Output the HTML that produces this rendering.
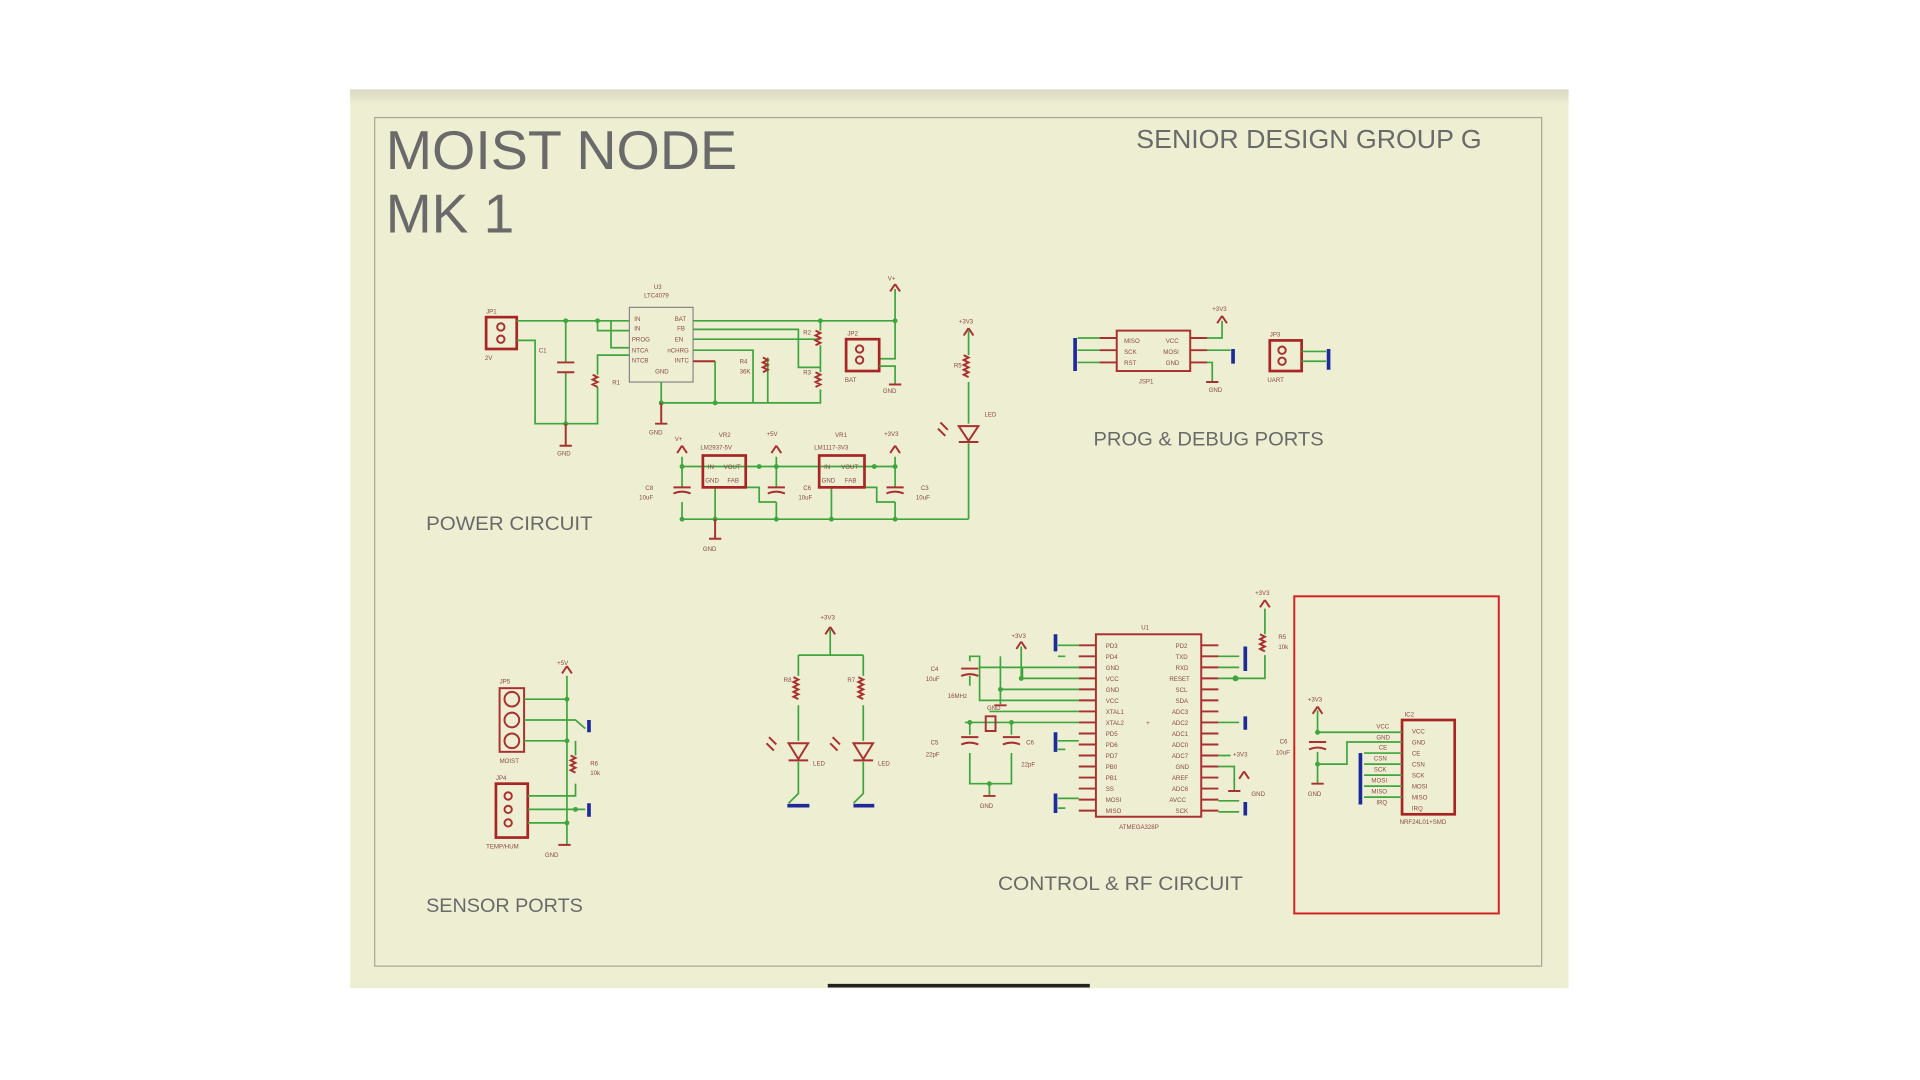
<!DOCTYPE html>
<html><head><meta charset="utf-8"><style>
html,body{margin:0;padding:0;background:#fff;width:1920px;height:1080px;overflow:hidden}
svg{display:block}
text{font-family:"Liberation Sans",sans-serif}
.g{stroke:#3fa63f;stroke-width:1.4;fill:none}
.r{stroke:#a83030;stroke-width:1.6;fill:none}
.rb{stroke:#a82525;stroke-width:2.2;fill:none}
.b{stroke:#1c2a9a;stroke-width:3;fill:none}
.t{fill:#8a4a4a;font-size:5px}
.k{fill:#777;font-size:6px}
.d{fill:#3fa63f}
</style></head><body>
<svg width="1920" height="1080" viewBox="0 0 1568 882" preserveAspectRatio="none">
<defs><linearGradient id="top" x1="0" y1="0" x2="0" y2="1"><stop offset="0" stop-color="#d8d8c4"/><stop offset="1" stop-color="#eeeed2"/></linearGradient></defs>
<rect x="286" y="73" width="995" height="734" fill="#eeeed2"/>
<rect x="286" y="73" width="995" height="12" fill="url(#top)"/>
<rect x="306" y="96" width="953" height="693" fill="none" stroke="#a8a898" stroke-width="1"/>
<line x1="676" y1="805" x2="890" y2="805" stroke="#222" stroke-width="3"/>
<text x="315" y="138" font-size="45" fill="#6a6a6a" textLength="287" lengthAdjust="spacingAndGlyphs">MOIST NODE</text>
<text x="315" y="190" font-size="45" fill="#6a6a6a">MK 1</text>
<text x="928" y="121" font-size="21" fill="#6a6a6a" textLength="282" lengthAdjust="spacingAndGlyphs">SENIOR DESIGN GROUP G</text>
<text x="348" y="433" font-size="16" fill="#6a6a6a" textLength="136" lengthAdjust="spacingAndGlyphs">POWER CIRCUIT</text>
<text x="893" y="364" font-size="16" fill="#6a6a6a" textLength="188" lengthAdjust="spacingAndGlyphs">PROG &amp; DEBUG PORTS</text>
<text x="348" y="745" font-size="16" fill="#6a6a6a" textLength="128" lengthAdjust="spacingAndGlyphs">SENSOR PORTS</text>
<text x="815" y="727" font-size="16" fill="#6a6a6a" textLength="200" lengthAdjust="spacingAndGlyphs">CONTROL &amp; RF CIRCUIT</text>
<rect x="1057" y="487" width="167" height="259" fill="none" stroke="#d42020" stroke-width="1.6"/>

<!-- POWER -->
<rect x="397" y="259" width="25" height="26" class="rb"/>
<circle cx="409" cy="267" r="3" class="r"/><circle cx="409" cy="277" r="3" class="r"/>
<text x="397" y="256" class="t">JP1</text><text x="396" y="294" class="t">2V</text>
<path class="g" d="M422 262H514M462 262V296M462 304V346M422 278H437V346H488V316M488 306V290H514M488 262V270H514M499 262V284H514"/>
<path class="r" d="M455 296H469M455 304H469M484 306l4 2-4 2 4 2-4 2 4 2"/>
<circle cx="462" cy="262" r="2" class="d"/><circle cx="488" cy="262" r="2" class="d"/><circle cx="462" cy="346" r="2" class="d"/>
<text x="440" y="288" class="t">C1</text><text x="500" y="314" class="t">R1</text>
<text x="455" y="372" class="t">GND</text><path class="r" d="M462 346V364M457 364H467"/>
<rect x="514" y="251" width="52" height="61" fill="none" stroke="#888" stroke-width="1"/>
<text x="534" y="236" class="t">U3</text><text x="526" y="243" class="t">LTC4079</text>
<text x="518" y="262" class="t">IN</text><text x="518" y="270" class="t">IN</text><text x="516" y="279" class="t">PROG</text><text x="516" y="288" class="t">NTCA</text><text x="516" y="296" class="t">NTCB</text><text x="535" y="305" class="t">GND</text>
<text x="551" y="262" class="t">BAT</text><text x="553" y="270" class="t">FB</text><text x="551" y="279" class="t">EN</text><text x="545" y="288" class="t">nCHRG</text><text x="551" y="296" class="t">INTC</text>
<path class="g" d="M566 262H731M566 269H652V300H670M566 277H670M566 286H615V329M540 312V329H670V318M670 262V270M670 282V304M584 295V329M627 292V329"/>
<path class="r" d="M566 295H584M666 270l4 2-4 2 4 2-4 2 4 2-4 2M666 304l4 2-4 2 4 2-4 2 4 2-4 2M623 292l4 2-4 2 4 2-4 2 4 2-4 2"/>
<circle cx="540" cy="329" r="2" class="d"/><circle cx="584" cy="329" r="2" class="d"/><circle cx="670" cy="262" r="2" class="d"/><circle cx="731" cy="262" r="2" class="d"/>
<text x="656" y="273" class="t">R2</text><text x="656" y="306" class="t">R3</text><text x="604" y="297" class="t">R4</text><text x="604" y="305" class="t">36K</text>
<path class="r" d="M540 329V346M535 346H545"/><text x="530" y="355" class="t">GND</text>
<path class="g" d="M731 236V293H718"/><path class="r" d="M731 232l-4 6M731 232l4 6"/><text x="725" y="229" class="t">V+</text>
<rect x="691" y="277" width="27" height="26" class="rb"/><circle cx="702" cy="285" r="3" class="r"/><circle cx="702" cy="294" r="3" class="r"/>
<text x="692" y="274" class="t">JP2</text><text x="690" y="312" class="t">BAT</text>
<path class="g" d="M718 299H731V314"/><path class="r" d="M726 314H736"/><text x="721" y="321" class="t">GND</text>
<path class="r" d="M791 268l-4 6M791 268l4 6"/><text x="783" y="264" class="t">+3V3</text>
<path class="g" d="M791 270V290M791 312V346M791 362V424"/>
<path class="r" d="M787 290l4 2-4 2 4 2-4 2 4 2-4 2 4 2-4 2 4 2"/>
<path class="r" d="M783 348H799L791 360ZM783 361H799M768 345l6 6M766 350l6 6"/>
<text x="779" y="300" class="t">R5</text><text x="804" y="340" class="t">LED</text>
<path class="g" d="M557 381H731M557 373V398M557 410V424H791M634 373V398M634 410V424M731 373V398M731 410V424M584 398V424M609 398H620V410H634M679 398V424M706 398H716V410H731"/>
<path class="r" d="M550 398H564M550 403q7-3 14 0M627 398H641M627 403q7-3 14 0M724 398H738M724 403q7-3 14 0"/>
<path class="r" d="M557 364l-4 6M557 364l4 6M634 364l-4 6M634 364l4 6M731 364l-4 6M731 364l4 6"/>
<text x="551" y="360" class="t">V+</text><text x="626" y="356" class="t">+5V</text><text x="722" y="356" class="t">+3V3</text>
<rect x="574" y="372" width="35" height="26" class="rb"/><rect x="669" y="372" width="37" height="26" class="rb"/>
<text x="578" y="383" class="t">IN</text><text x="591" y="383" class="t">VOUT</text><text x="576" y="394" class="t">GND</text><text x="594" y="394" class="t">FAB</text>
<text x="673" y="383" class="t">IN</text><text x="687" y="383" class="t">VOUT</text><text x="671" y="394" class="t">GND</text><text x="690" y="394" class="t">FAB</text>
<text x="587" y="357" class="t">VR2</text><text x="572" y="367" class="t">LM2937-5V</text><text x="682" y="357" class="t">VR1</text><text x="665" y="367" class="t">LM1117-3V3</text>
<text x="527" y="400" class="t">C8</text><text x="522" y="408" class="t">10uF</text><text x="656" y="400" class="t">C6</text><text x="652" y="408" class="t">10uF</text><text x="752" y="400" class="t">C3</text><text x="748" y="408" class="t">10uF</text>
<circle cx="557" cy="381" r="2" class="d"/><circle cx="620" cy="381" r="2" class="d"/><circle cx="634" cy="381" r="2" class="d"/><circle cx="714" cy="381" r="2" class="d"/><circle cx="731" cy="381" r="2" class="d"/>
<circle cx="584" cy="424" r="2" class="d"/><circle cx="634" cy="424" r="2" class="d"/><circle cx="679" cy="424" r="2" class="d"/><circle cx="731" cy="424" r="2" class="d"/><circle cx="557" cy="424" r="2" class="d"/>
<path class="r" d="M584 424V440M579 440H589"/><text x="574" y="450" class="t">GND</text>

<!-- PROG -->
<rect x="912" y="270" width="60" height="33" class="r"/>
<path class="b" d="M878 276V303M1007 285V297M1085 285V302"/>
<path class="g" d="M880 276L888 276H898M880 286H898M880 296H898M986 276H998V262M986 286H1005M986 296H990V312"/>
<path class="r" d="M898 276H912M898 286H912M898 296H912M972 276H986M972 286H986M972 296H986M998 258l-4 6M998 258l4 6M985 312H995"/>
<text x="918" y="280" class="t">MISO</text><text x="918" y="289" class="t">SCK</text><text x="918" y="298" class="t">RST</text><text x="952" y="280" class="t">VCC</text><text x="950" y="289" class="t">MOSI</text><text x="952" y="298" class="t">GND</text>
<text x="990" y="254" class="t">+3V3</text><text x="987" y="320" class="t">GND</text><text x="930" y="313" class="t">JSP1</text>
<rect x="1037" y="278" width="26" height="25" class="rb"/><circle cx="1047" cy="286" r="3" class="r"/><circle cx="1047" cy="295" r="3" class="r"/>
<path class="g" d="M1063 287H1083M1063 295H1083"/><text x="1037" y="275" class="t">JP3</text><text x="1035" y="312" class="t">UART</text>

<!-- SENSOR -->
<rect x="408" y="562" width="20" height="52" class="r"/><circle cx="418" cy="571" r="6" class="r"/><circle cx="418" cy="588" r="6" class="r"/><circle cx="418" cy="605" r="6" class="r"/>
<text x="408" y="558" class="t">JP5</text><text x="408" y="623" class="t">MOIST</text>
<rect x="405" y="640" width="26" height="44" class="rb"/><circle cx="415" cy="650" r="3" class="r"/><circle cx="415" cy="661" r="3" class="r"/><circle cx="415" cy="672" r="3" class="r"/>
<text x="405" y="637" class="t">JP4</text><text x="397" y="693" class="t">TEMP/HUM</text>
<path class="g" d="M428 571H463M428 588H470L478 595M428 605H463M431 650H470V640M431 661H478M431 672H463M463 552V690M470 605V617M470 650V640"/>
<path class="r" d="M466 617l4 2-4 2 4 2-4 2 4 2-4 2 4 2M463 544l-4 6M463 544l4 6M456 690H466"/>
<path class="b" d="M481 588V598M481 656V667"/>
<circle cx="463" cy="571" r="2" class="d"/><circle cx="463" cy="605" r="2" class="d"/><circle cx="463" cy="672" r="2" class="d"/><circle cx="470" cy="661" r="2" class="d"/>
<text x="455" y="543" class="t">+5V</text><text x="482" y="625" class="t">R6</text><text x="482" y="633" class="t">10k</text><text x="445" y="700" class="t">GND</text>

<!-- LEDs mid -->
<path class="r" d="M678 512l-4 6M678 512l4 6"/><text x="670" y="506" class="t">+3V3</text>
<path class="g" d="M678 514V535M652 535H705M652 535V552M705 535V552M652 576V605M705 576V605M652 622V648L644 656M705 622V648L697 656"/>
<path class="r" d="M648 553l4 2-4 2 4 2-4 2 4 2-4 2 4 2-4 2 4 2M701 553l4 2-4 2 4 2-4 2 4 2-4 2 4 2-4 2 4 2"/>
<path class="r" d="M644 607H660L652 620ZM644 621H660M697 607H713L705 620ZM697 621H713M628 602l6 6M626 607l6 6M680 602l6 6M678 607l6 6"/>
<path class="b" d="M643 658H661M697 658H714"/>
<text x="640" y="557" class="t">R8</text><text x="692" y="557" class="t">R7</text><text x="664" y="625" class="t">LED</text><text x="717" y="625" class="t">LED</text>

<!-- MCU -->
<rect x="895" y="518" width="86" height="149" class="r"/>
<text x="932" y="514" class="t">U1</text><text x="914" y="677" class="t">ATMEGA328P</text><text x="936" y="592" class="t">+</text>
<g class="t">
<text x="903" y="529">PD3</text><text x="903" y="538">PD4</text><text x="903" y="547">GND</text><text x="903" y="556">VCC</text><text x="903" y="565">GND</text><text x="903" y="574">VCC</text><text x="903" y="583">XTAL1</text><text x="903" y="592">XTAL2</text><text x="903" y="601">PD5</text><text x="903" y="610">PD6</text><text x="903" y="619">PD7</text><text x="903" y="628">PB0</text><text x="903" y="637">PB1</text><text x="903" y="646">SS</text><text x="903" y="655">MOSI</text><text x="903" y="664">MISO</text>
<text x="960" y="529">PD2</text><text x="960" y="538">TXD</text><text x="960" y="547">RXD</text><text x="955" y="556">RESET</text><text x="960" y="565">SCL</text><text x="960" y="574">SDA</text><text x="957" y="583">ADC3</text><text x="957" y="592">ADC2</text><text x="957" y="601">ADC1</text><text x="957" y="610">ADC0</text><text x="957" y="619">ADC7</text><text x="960" y="628">GND</text><text x="957" y="637">AREF</text><text x="957" y="646">ADC6</text><text x="955" y="655">AVCC</text><text x="960" y="664">SCK</text>
</g>
<path class="r" d="M881 527H895M881 536H895M881 545H895M881 554H895M881 563H895M881 572H895M881 581H895M881 590H895M881 599H895M881 608H895M881 617H895M881 626H895M881 635H895M881 644H895M881 653H895M881 662H895M981 527H995M981 536H995M981 545H995M981 554H995M981 563H995M981 572H995M981 581H995M981 590H995M981 599H995M981 608H995M981 617H995M981 626H995M981 635H995M981 644H995M981 653H995M981 662H995"/>
<path class="b" d="M862 518V532M862 598V614M862 648V664M1017 528V548M1017 585V596M1017 655V666"/>
<path class="g" d="M864 527H881M864 536H870M864 605H881M864 612H870M864 652H881M864 660H870M995 536H1012M995 545H1012M995 590H1012M995 654H1012M995 663H1012M995 554H1033V535M1033 518V497M995 626H1008V646M995 617H1005"/>
<path class="r" d="M1029 518l4 2-4 2 4 2-4 2 4 2-4 2 4 2M1033 490l-4 6M1033 490l4 6M1003 646H1013M1016 630l-4 6M1016 630l4 6"/>
<circle cx="1009" cy="554" r="2.4" class="d"/>
<text x="1025" y="486" class="t">+3V3</text><text x="1044" y="522" class="t">R5</text><text x="1044" y="530" class="t">10k</text><text x="1007" y="618" class="t">+3V3</text><text x="1022" y="650" class="t">GND</text>
<path class="r" d="M834 524l-4 6M834 524l4 6"/><text x="826" y="521" class="t">+3V3</text>
<path class="g" d="M834 528V554H881M792 540V536H800V572H881M792 552V560M800 545H881M817 563H881M817 536V563M835 554V545M808 581H881M788 590H881M792 590V600M826 590V600M792 615V640H826V615M808 640V650M817 563V575"/>
<path class="r" d="M785 546H799M785 552q7-3 14 0M785 602H799M785 608q7-3 14 0M819 602H833M819 608q7-3 14 0M805 585h8v12h-8zM803 650H813M812 576H822"/>
<circle cx="834" cy="554" r="2" class="d"/><circle cx="817" cy="563" r="2" class="d"/><circle cx="792" cy="590" r="2" class="d"/><circle cx="826" cy="590" r="2" class="d"/><circle cx="808" cy="640" r="2" class="d"/>
<text x="760" y="548" class="t">C4</text><text x="756" y="556" class="t">10uF</text><text x="774" y="570" class="t">16MHz</text><text x="806" y="580" class="t">GND</text><text x="760" y="608" class="t">C5</text><text x="756" y="618" class="t">22pF</text><text x="838" y="608" class="t">C6</text><text x="834" y="626" class="t">22pF</text><text x="800" y="660" class="t">GND</text>

<!-- RF -->
<rect x="1145" y="588" width="43" height="77" class="rb"/>
<text x="1147" y="585" class="t">IC2</text><text x="1143" y="673" class="t">NRF24L01+SMD</text>
<g class="t"><text x="1153" y="599">VCC</text><text x="1153" y="608">GND</text><text x="1153" y="617">CE</text><text x="1153" y="626">CSN</text><text x="1153" y="635">SCK</text><text x="1153" y="644">MOSI</text><text x="1153" y="653">MISO</text><text x="1153" y="662">IRQ</text></g>
<g class="t"><text x="1124" y="595">VCC</text><text x="1124" y="604">GND</text><text x="1126" y="612">CE</text><text x="1122" y="621">CSN</text><text x="1122" y="630">SCK</text><text x="1120" y="639">MOSI</text><text x="1120" y="648">MISO</text><text x="1124" y="657">IRQ</text></g>
<path class="g" d="M1076 580V600M1076 614V640M1076 598H1145M1076 624H1100V606H1145M1114 615H1145M1114 624H1145M1114 633H1145M1114 642H1145M1114 651H1145"/>
<path class="r" d="M1069 606H1083M1069 612q7-3 14 0M1076 577l-4 6M1076 577l4 6M1071 640H1081"/>
<path class="b" d="M1111 615V657"/>
<circle cx="1076" cy="598" r="2" class="d"/><circle cx="1076" cy="624" r="2" class="d"/>
<text x="1068" y="573" class="t">+3V3</text><text x="1045" y="607" class="t">C6</text><text x="1042" y="616" class="t">10uF</text><text x="1068" y="650" class="t">GND</text>
</svg>
</body></html>
